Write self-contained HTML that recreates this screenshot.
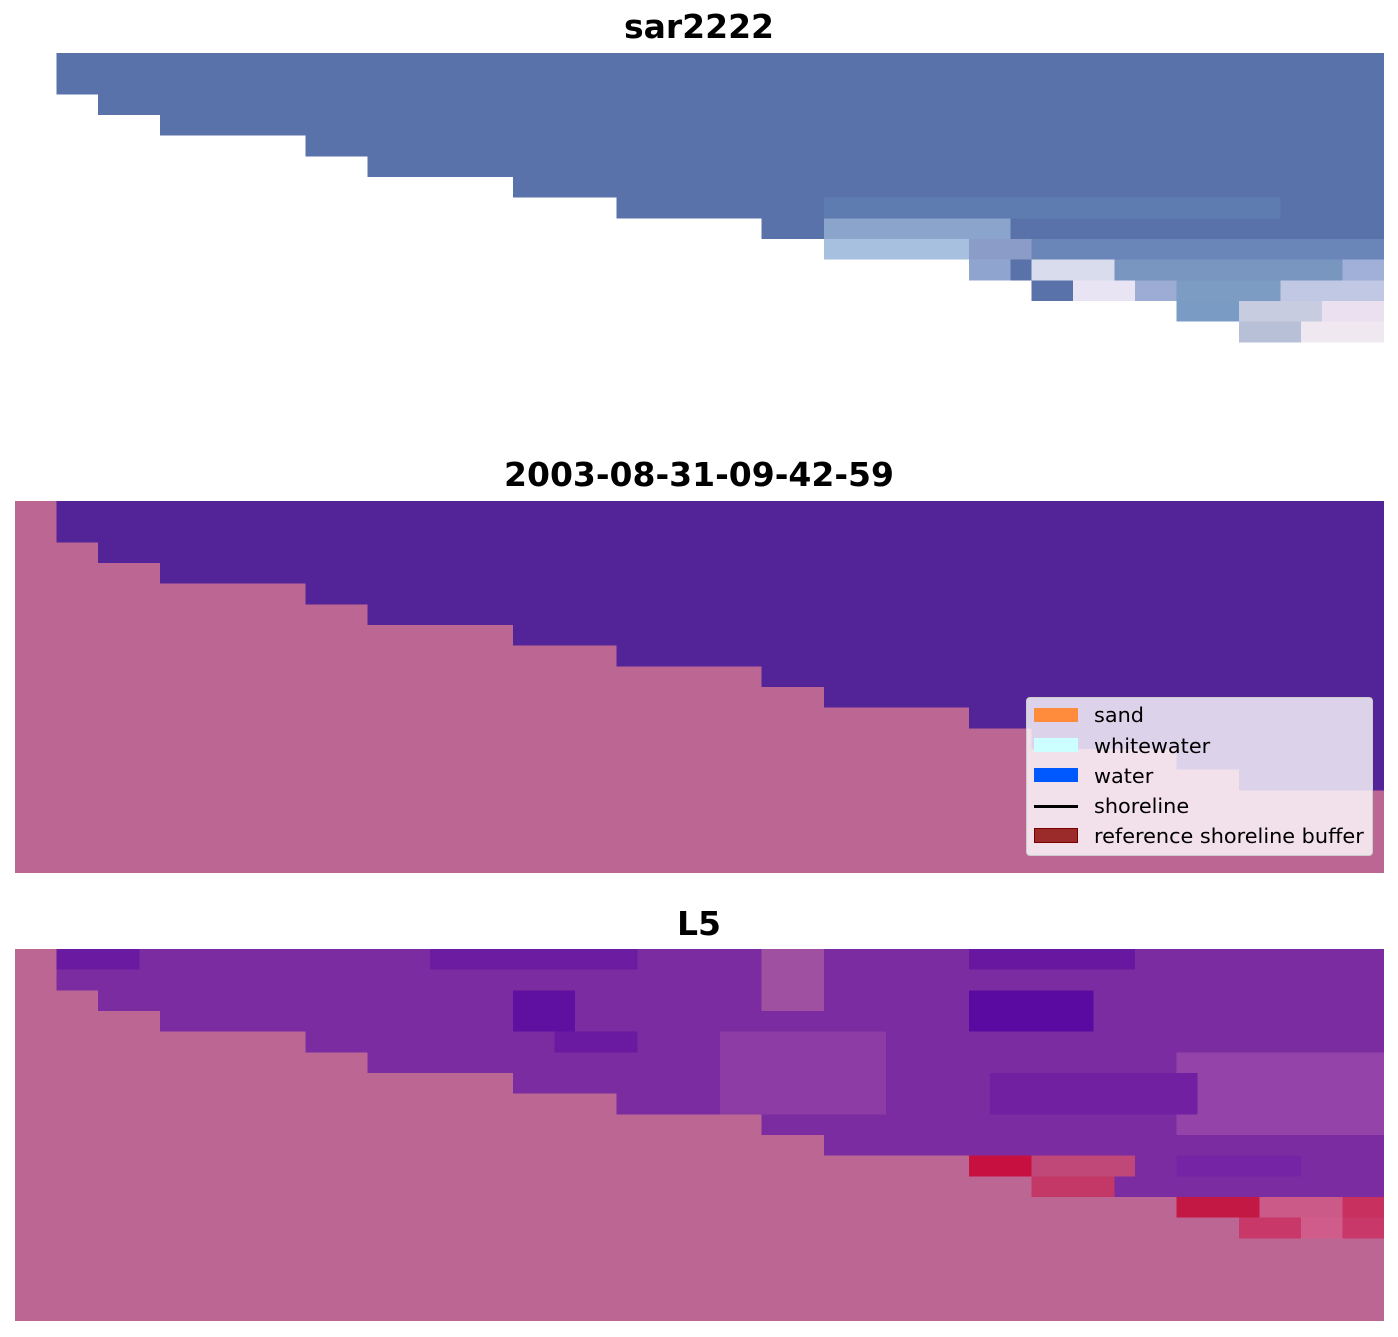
<!DOCTYPE html>
<html><head><meta charset="utf-8"><style>
body{margin:0;width:1398px;height:1337px;background:#fff;position:relative;overflow:hidden;font-family:"DejaVu Sans","Liberation Sans",sans-serif}
.t{position:absolute;left:0;width:1398px;text-align:center;font-weight:bold;font-size:33px;color:#000}
svg.p{position:absolute;left:15px;width:1369px;height:372px}
.lg{position:absolute;left:1026px;top:697px;width:345px;height:157px;background:rgba(255,255,255,0.8);border:1px solid #ccc;border-radius:4px;font-size:20.8px}
.lg div{position:absolute;left:67px}
.lg span{position:absolute;left:7px;width:44px;height:14px}
</style></head><body>
<div class="t" style="top:7px">sar2222</div>
<div class="t" style="top:455px">2003-08-31-09-42-59</div>
<div class="t" style="top:904px">L5</div>

<svg class="p" style="top:53px" viewBox="0 0 66 18" preserveAspectRatio="none" shape-rendering="crispEdges">
<polygon fill="#5a72aa" points="2,0 66,0 66,14 59,14 59,13 56,13 56,12 49,12 49,11 46,11 46,10 39,10 39,9 36,9 36,8 29,8 29,7 24,7 24,6 17,6 17,5 14,5 14,4 7,4 7,3 4,3 4,2 2,2"/>
<rect x="39" y="7" width="22" height="1" fill="#5e7cb0"/>
<rect x="39" y="8" width="9" height="1" fill="#8aa4cc"/>
<rect x="39" y="9" width="7" height="1" fill="#a8c0e0"/>
<rect x="46" y="9" width="4" height="1" fill="#8c9cc8"/>
<rect x="49" y="9" width="17" height="1" fill="#6a86b8"/>
<rect x="46" y="10" width="2" height="1" fill="#90a4d0"/>
<rect x="49" y="10" width="4" height="1" fill="#d8dcec"/>
<rect x="53" y="10" width="13" height="1" fill="#7896c0"/>
<rect x="64" y="10" width="2" height="1" fill="#a0b0d8"/>
<rect x="51" y="11" width="3" height="1" fill="#e8e4f4"/>
<rect x="54" y="11" width="2" height="1" fill="#9cacd4"/>
<rect x="56" y="11" width="10" height="1" fill="#7c9cc4"/>
<rect x="61" y="11" width="5" height="1" fill="#c0c8e4"/>
<rect x="56" y="12" width="3" height="1" fill="#7a9cc4"/>
<rect x="59" y="12" width="7" height="1" fill="#c8cce0"/>
<rect x="63" y="12" width="3" height="1" fill="#eae0f0"/>
<rect x="59" y="13" width="3" height="1" fill="#b8c0d8"/>
<rect x="62" y="13" width="4" height="1" fill="#f0e8f0"/>
</svg>

<svg class="p" style="top:501px" viewBox="0 0 66 18" preserveAspectRatio="none" shape-rendering="crispEdges">
<rect width="66" height="18" fill="#bc6694"/>
<polygon fill="#532497" points="2,0 66,0 66,14 59,14 59,13 56,13 56,12 49,12 49,11 46,11 46,10 39,10 39,9 36,9 36,8 29,8 29,7 24,7 24,6 17,6 17,5 14,5 14,4 7,4 7,3 4,3 4,2 2,2"/>
</svg>
<div class="lg">
<span style="top:10px;background:#ff8c3c"></span><div style="top:5px">sand</div>
<span style="top:40px;background:#ccffff"></span><div style="top:36px">whitewater</div>
<span style="top:70px;background:#0058ff"></span><div style="top:66px">water</div>
<span style="top:107px;height:3px;background:#000"></span><div style="top:96px">shoreline</div>
<span style="top:130px;width:42px;height:13px;background:#9b2b2b;border:1px solid #7a0000"></span><div style="top:126px">reference shoreline buffer</div>
</div>

<svg class="p" style="top:949px" viewBox="0 0 66 18" preserveAspectRatio="none" shape-rendering="crispEdges">
<rect width="66" height="18" fill="#bc6694"/>
<polygon fill="#7a2ca0" points="2,0 66,0 66,14 59,14 59,13 56,13 56,12 49,12 49,11 46,11 46,10 39,10 39,9 36,9 36,8 29,8 29,7 24,7 24,6 17,6 17,5 14,5 14,4 7,4 7,3 4,3 4,2 2,2"/>
<rect x="2" y="0" width="4" height="1" fill="#6a1aa0"/>
<rect x="20" y="0" width="10" height="1" fill="#6c1ca0"/>
<rect x="36" y="0" width="3" height="3" fill="#a050a0"/>
<rect x="46" y="0" width="8" height="1" fill="#6818a0"/>
<rect x="46" y="2" width="6" height="2" fill="#5a0aa0"/>
<rect x="24" y="2" width="3" height="2" fill="#6010a0"/>
<rect x="26" y="4" width="4" height="1" fill="#6a1aa0"/>
<rect x="34" y="4" width="8" height="4" fill="#8c3ca4"/>
<rect x="56" y="5" width="10" height="4" fill="#9444a8"/>
<rect x="47" y="6" width="10" height="2" fill="#7020a0"/>
<rect x="46" y="10" width="3" height="1" fill="#c81040"/>
<rect x="49" y="10" width="5" height="1" fill="#c04878"/>
<rect x="49" y="11" width="4" height="1" fill="#c43868"/>
<rect x="56" y="10" width="6" height="1" fill="#7424a4"/>
<rect x="56" y="12" width="4" height="1" fill="#c41844"/>
<rect x="60" y="12" width="6" height="1" fill="#cc5a88"/>
<rect x="64" y="12" width="2" height="1" fill="#c83060"/>
<rect x="59" y="13" width="7" height="1" fill="#c83868"/>
<rect x="62" y="13" width="2" height="1" fill="#d05c8c"/>
</svg>
</body></html>
